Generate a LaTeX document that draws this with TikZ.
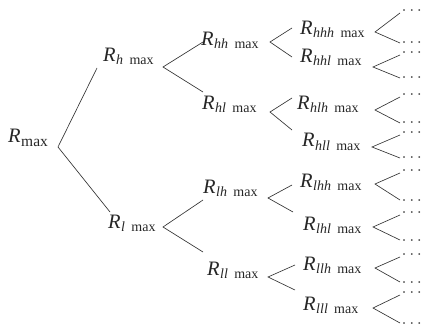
\documentclass[tikz,border=0pt]{standalone}
\usepackage{fontspec}
\setmainfont{Liberation Serif}
% R with an italic subscript and "max"
\newcommand\RR[1]{\textit{R}\kern0.5pt\raisebox{-3pt}{\fontsize{14}{14}\selectfont\textit{#1}\hspace{0.45em}max}}
\newcommand\Rmx{\textit{R}\kern0.5pt\raisebox{-3pt}{\fontsize{15.5}{15.5}\selectfont max}}
\newcommand\tdots{·\kern2.6pt·\kern2.6pt·}
\begin{document}
\begin{tikzpicture}[x=1pt,y=-1pt,
  lab/.style={anchor=base west,inner sep=0pt,text=black!85,font=\fontsize{20.5}{20.5}\selectfont},
  dotsnode/.style={anchor=west,inner sep=0pt,text height=3pt,text depth=0pt,
                   text=black!75,font=\fontsize{15}{15}\selectfont},
  br/.style={draw=black!80,line width=0.65pt}]
\useasboundingbox (0,0) rectangle (425,331);

% root
\node[lab] (L) at (8,143) {\Rmx};
\coordinate (v) at (58,147);

% first level
\node[lab] (Lh) at (103,62) {\RR{h}};
\coordinate (ih) at (97,68);
\coordinate (vh) at (163,67);
\node[lab] (Ll) at (108,228) {\RR{l}};
\coordinate (il) at (110,212);
\coordinate (vl) at (163,227);

% second level
\node[lab] (Lhh) at (201,46) {\RR{hh}};
\coordinate (ihh) at (203,42);
\coordinate (vhh) at (270,42);
\node[lab] (Lhl) at (202,110) {\RR{hl}};
\coordinate (ihl) at (203,92);
\coordinate (vhl) at (270,112);
\node[lab] (Llh) at (203,193) {\RR{lh}};
\coordinate (ilh) at (203,200);
\coordinate (vlh) at (268,198);
\node[lab] (Lll) at (207,275) {\RR{ll}};
\coordinate (ill) at (203,252);
\coordinate (vll) at (268,277);

% third level
\node[lab] (Lhhh) at (300,35) {\RR{hhh}};
\coordinate (ihhh) at (292,28);
\coordinate (vhhh) at (375,32);
\node[lab] (Lhhl) at (300,63) {\RR{hhl}};
\coordinate (ihhl) at (292,57);
\coordinate (vhhl) at (373,67);
\node[lab] (Lhlh) at (297,110) {\RR{hlh}};
\coordinate (ihlh) at (292,98);
\coordinate (vhlh) at (375,110);
\node[lab] (Lhll) at (302,147) {\RR{hll}};
\coordinate (ihll) at (292,130);
\coordinate (vhll) at (372,147);
\node[lab] (Llhh) at (300,187) {\RR{lhh}};
\coordinate (ilhh) at (292,185);
\coordinate (vlhh) at (375,184);
\node[lab] (Llhl) at (303,230) {\RR{lhl}};
\coordinate (ilhl) at (293,212);
\coordinate (vlhl) at (373,227);
\node[lab] (Lllh) at (303,270) {\RR{llh}};
\coordinate (illh) at (295,265);
\coordinate (vllh) at (375,268);
\node[lab] (Llll) at (303,310) {\RR{lll}};
\coordinate (illl) at (295,290);
\coordinate (vlll) at (373,308);

% branches between levels
\draw[br] (ih) -- (v) -- (il);
\draw[br] (ihh) -- (vh) -- (ihl);
\draw[br] (ilh) -- (vl) -- (ill);
\draw[br] (ihhh) -- (vhh) -- (ihhl);
\draw[br] (ihlh) -- (vhl) -- (ihll);
\draw[br] (ilhh) -- (vlh) -- (ilhl);
\draw[br] (illh) -- (vll) -- (illl);

% open ends of the tree
\foreach \n/\a/\b in {hhh/13/43, hhl/55/78, hlh/97/123, hll/135/158,
                      lhh/173/200, lhl/215/240, llh/257/282, lll/295/323}{
  \coordinate (e\n u) at (400,\a);
  \coordinate (e\n d) at (400,\b);
  \node[dotsnode] (d\n u) at ([xshift=1.5pt,yshift=-1pt]e\n u) {\tdots};
  \node[dotsnode] (d\n d) at ([xshift=1.5pt,yshift=-3.5pt]e\n d) {\tdots};
  \draw[br] (e\n u) -- (v\n) -- (e\n d);
}
\end{tikzpicture}
\end{document}
